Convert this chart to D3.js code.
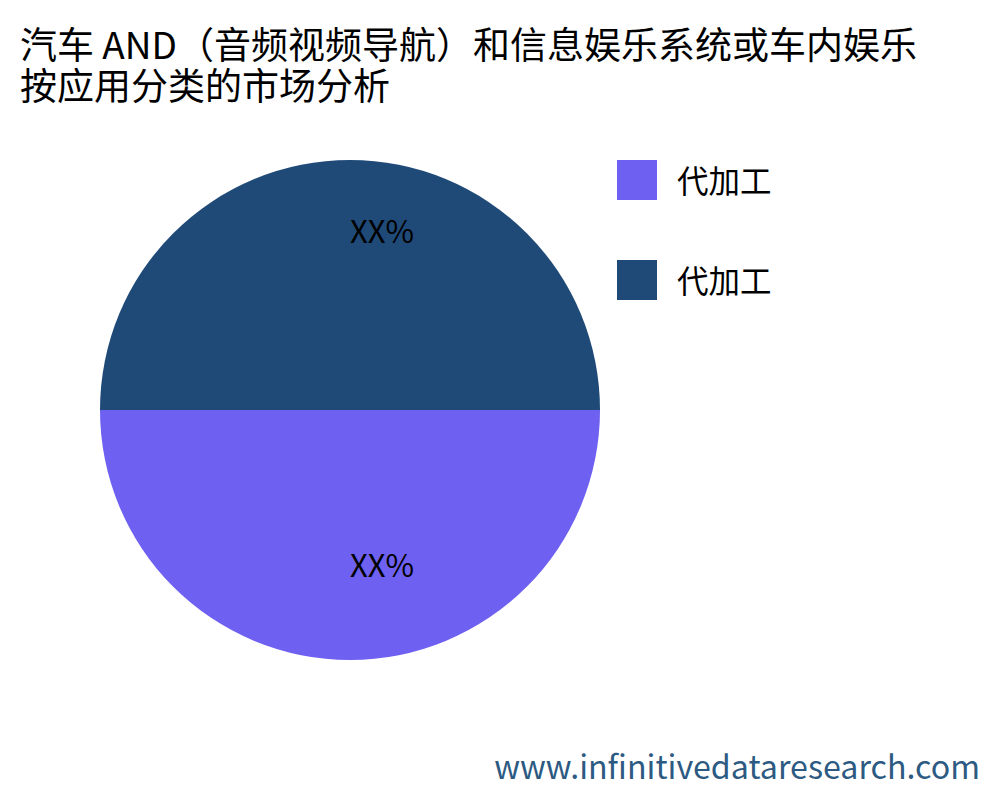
<!DOCTYPE html>
<html>
<head>
<meta charset="utf-8">
<script src="https://cdn.jsdelivr.net/npm/d3@7"></script>
<style>
  html, body { margin: 0; padding: 0; background: #fff; }
  svg { display: block; font-family: "Noto Sans CJK SC", "Noto Sans", sans-serif; }
</style>
</head>
<body>
<svg id="chart" width="1000" height="800"></svg>
<script>
const titleLines = ["汽车 AND（音频视频导航）和信息娱乐系统或车内娱乐", "按应用分类的市场分析"];
const categories = ["代加工", "代加工"];
const values = [50, 50];
const sliceLabels = ["XX%", "XX%"];
const colors = ["#6e60f0", "#1f4a78"];
const watermark = "www.infinitivedataresearch.com";

const svg = d3.select("#chart");

// Title
const title = svg.append("text").attr("x", 20).attr("y", 59)
  .attr("font-size", 37).attr("fill", "#000");
titleLines.forEach((t, i) => {
  title.append("tspan").attr("x", 20).attr("dy", i === 0 ? 0 : 41).text(t);
});

// Pie
const cx = 350, cy = 410, r = 250;
const pie = d3.pie().value(d => d.v).sort(null)
  .startAngle(Math.PI / 2).endAngle(Math.PI / 2 + 2 * Math.PI);
const data = values.map((v, i) => ({ v, i }));
const arcs = pie(data);
const arc = d3.arc().innerRadius(0).outerRadius(r);
const labelArc = d3.arc().innerRadius(r * 2 / 3).outerRadius(r * 2 / 3);

const g = svg.append("g").attr("transform", `translate(${cx},${cy})`);
g.selectAll("path").data(arcs).join("path")
  .attr("d", arc)
  .attr("fill", d => colors[d.data.i]);

g.selectAll("text.lbl").data(arcs).join("text")
  .attr("class", "lbl")
  .attr("x", d => labelArc.centroid(d)[0])
  .attr("y", d => labelArc.centroid(d)[1])
  .attr("text-anchor", "start")
  .attr("font-size", 31)
  .attr("fill", "#000")
  .text(d => sliceLabels[d.data.i]);

// Legend
const legend = svg.append("g").attr("transform", "translate(617,160)");
const item = legend.selectAll("g").data(categories).join("g")
  .attr("transform", (d, i) => `translate(0,${i * 100})`);
item.append("rect").attr("width", 40).attr("height", 40)
  .attr("fill", (d, i) => colors[i]);
item.append("text").attr("x", 60).attr("y", 19)
  .attr("dominant-baseline", "central")
  .attr("font-size", 31.5).attr("fill", "#000")
  .text(d => d);

// Watermark
svg.append("text").attr("x", 980).attr("y", 779)
  .attr("text-anchor", "end")
  .attr("font-size", 32.2).attr("fill", "#2c5a82")
  .text(watermark);
</script>
</body>
</html>
